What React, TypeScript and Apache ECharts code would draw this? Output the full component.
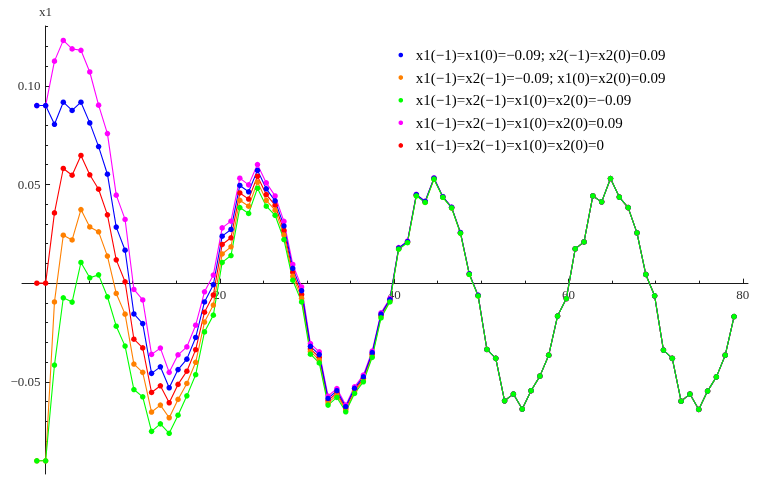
import React, { useEffect, useRef } from "react";
import * as echarts from "echarts";

// Data range of the plotted lists (80 samples spread from -1 to 79)
const X_START = -1;
const X_END = 79;

const blueVals = [
  0.09, 0.09, 0.0805, 0.0917, 0.0875, 0.0917, 0.0812, 0.0692, 0.0552, 0.0284,
  0.0167, -0.0156, -0.0205, -0.0457, -0.0424, -0.053, -0.0438, -0.0385, -0.0275, -0.0095,
  -0.0008, 0.0238, 0.0272, 0.0495, 0.0463, 0.0572, 0.0478, 0.0417, 0.029, 0.0075,
  -0.0038, -0.032, -0.0362, -0.0584, -0.0545, -0.0626, -0.0533, -0.0475, -0.0352, -0.0157,
  -0.0083, 0.0178, 0.0211, 0.0448, 0.0414, 0.0532, 0.0438, 0.0384, 0.0256, 0.0047,
  -0.0062, -0.0336, -0.0381, -0.0596, -0.0562, -0.0638, -0.0545, -0.0471, -0.0365, -0.0167,
  -0.0078, 0.0174, 0.0209, 0.0442, 0.0412, 0.053, 0.0436, 0.0383, 0.0255, 0.0044,
  -0.0064, -0.0339, -0.0381, -0.0598, -0.0562, -0.064, -0.0547, -0.0475, -0.0365, -0.0169,
];

const orangeVals = [
  -0.09, -0.09, -0.0095, 0.0243, 0.0219, 0.0373, 0.0285, 0.026, 0.0137, -0.0052,
  -0.0157, -0.041, -0.0452, -0.0653, -0.0618, -0.0682, -0.0589, -0.0508, -0.0401, -0.0197,
  -0.0111, 0.0148, 0.0184, 0.042, 0.039, 0.0512, 0.042, 0.037, 0.0244, 0.0035,
  -0.0076, -0.0346, -0.039, -0.0607, -0.0567, -0.0643, -0.055, -0.0491, -0.0368, -0.0169,
  -0.0091, 0.0174, 0.0207, 0.0444, 0.041, 0.0528, 0.0436, 0.0382, 0.0254, 0.0045,
  -0.0064, -0.0336, -0.0381, -0.0596, -0.0562, -0.0638, -0.0545, -0.0471, -0.0365, -0.0167,
  -0.0078, 0.0174, 0.0209, 0.0442, 0.0412, 0.053, 0.0436, 0.0383, 0.0255, 0.0044,
  -0.0064, -0.0339, -0.0381, -0.0598, -0.0562, -0.064, -0.0547, -0.0475, -0.0365, -0.0169,
];

const greenVals = [
  -0.09, -0.09, -0.0415, -0.0074, -0.0096, 0.0105, 0.0027, 0.0042, -0.0069, -0.0218,
  -0.0319, -0.0539, -0.0576, -0.0751, -0.0713, -0.0761, -0.0669, -0.0571, -0.0464, -0.0247,
  -0.0162, 0.0105, 0.014, 0.0383, 0.0353, 0.0481, 0.039, 0.0344, 0.0221, 0.0015,
  -0.0095, -0.036, -0.0404, -0.0618, -0.0579, -0.0652, -0.0559, -0.05, -0.0376, -0.0176,
  -0.0095, 0.0172, 0.0205, 0.0442, 0.0409, 0.0527, 0.0435, 0.0381, 0.0253, 0.0044,
  -0.0065, -0.0336, -0.0381, -0.0596, -0.0562, -0.0638, -0.0545, -0.0471, -0.0365, -0.0167,
  -0.0078, 0.0174, 0.0209, 0.0442, 0.0412, 0.053, 0.0436, 0.0383, 0.0255, 0.0044,
  -0.0064, -0.0339, -0.0381, -0.0598, -0.0562, -0.064, -0.0547, -0.0475, -0.0365, -0.0169,
];

const magentaVals = [
  0.09, 0.09, 0.1125, 0.123, 0.1187, 0.118, 0.107, 0.0902, 0.0758, 0.0446,
  0.0323, -0.0032, -0.0085, -0.0361, -0.0329, -0.0452, -0.0363, -0.0323, -0.0213, -0.0044,
  0.0041, 0.028, 0.0314, 0.0532, 0.0498, 0.0601, 0.0508, 0.0442, 0.0313, 0.0095,
  -0.0019, -0.0306, -0.0348, -0.0572, -0.0534, -0.0618, -0.0525, -0.0466, -0.0344, -0.015,
  -0.0078, 0.018, 0.0213, 0.045, 0.0415, 0.0533, 0.0439, 0.0385, 0.0257, 0.0048,
  -0.0061, -0.0336, -0.0381, -0.0596, -0.0562, -0.0638, -0.0545, -0.0471, -0.0365, -0.0167,
  -0.0078, 0.0174, 0.0209, 0.0442, 0.0412, 0.053, 0.0436, 0.0383, 0.0255, 0.0044,
  -0.0064, -0.0339, -0.0381, -0.0598, -0.0562, -0.064, -0.0547, -0.0475, -0.0365, -0.0169,
];

const redVals = [
  0, 0, 0.0356, 0.0581, 0.0547, 0.0647, 0.0549, 0.0476, 0.0346, 0.0118,
  0.0007, -0.0284, -0.0328, -0.0554, -0.052, -0.0606, -0.0513, -0.0446, -0.0337, -0.0147,
  -0.006, 0.0196, 0.023, 0.0457, 0.0426, 0.0542, 0.0449, 0.0395, 0.0267, 0.0055,
  -0.0057, -0.0333, -0.0376, -0.0595, -0.0556, -0.0635, -0.0542, -0.0483, -0.036, -0.0163,
  -0.0087, 0.0176, 0.0209, 0.0446, 0.0412, 0.053, 0.0437, 0.0383, 0.0255, 0.0046,
  -0.0063, -0.0336, -0.0381, -0.0596, -0.0562, -0.0638, -0.0545, -0.0471, -0.0365, -0.0167,
  -0.0078, 0.0174, 0.0209, 0.0442, 0.0412, 0.053, 0.0436, 0.0383, 0.0255, 0.0044,
  -0.0064, -0.0339, -0.0381, -0.0598, -0.0562, -0.064, -0.0547, -0.0475, -0.0365, -0.0169,
];

const seriesNames = [
  "x1(−1)=x1(0)=−0.09; x2(−1)=x2(0)=0.09",
  "x1(−1)=x2(−1)=−0.09; x1(0)=x2(0)=0.09",
  "x1(−1)=x2(−1)=x1(0)=x2(0)=−0.09",
  "x1(−1)=x2(−1)=x1(0)=x2(0)=0.09",
  "x1(−1)=x2(−1)=x1(0)=x2(0)=0",
];

const xMajorTicks = [20, 40, 60, 80];
const xMinorTicks = [5, 10, 15, 25, 30, 35, 45, 50, 55, 65, 70, 75];
const yMajorTicks = [-0.05, 0.05, 0.1];
const yMinorTicks = [
  -0.09, -0.08, -0.07, -0.06, -0.04, -0.03, -0.02, -0.01,
  0.01, 0.02, 0.03, 0.04, 0.06, 0.07, 0.08, 0.09, 0.11, 0.12, 0.13,
];

const FONT = "'Liberation Serif', 'Times New Roman', serif";

function toPoints(vals: number[]) {
  const n = vals.length;
  return vals.map((v, i) => [X_START + (i * (X_END - X_START)) / (n - 1), v]);
}

export default function App() {
  const ref = useRef<HTMLDivElement>(null);
  useEffect(() => {
    const chart = echarts.init(ref.current!, null, { renderer: "svg" });
    const W = 762;
    const H = 478;
    const gLeft = 22;
    const gRight = 14;
    const gTop = 26;
    const gBottom = 4;
    const xMin = -2.7;
    const xMax = 80.6;
    const yMin = -0.0967;
    const yMax = 0.1303;
    const gW = W - gLeft - gRight;
    const gH = H - gTop - gBottom;
    // shift the axes from the grid edges to the zero lines (axes cross at origin)
    const yAxisOffset = -((0 - xMin) / (xMax - xMin)) * gW;
    const xAxisOffset = -((0 - yMin) / (yMax - yMin)) * gH;

    const axisColor = "#1a1a1a";
    const labelColor = "#333";
    const fmtY = (v: number) =>
      v < 0 ? "−" + Math.abs(v).toFixed(2) : v.toFixed(2);

    const mk = (name: string, vals: number[], color: string) => ({
      name,
      type: "line",
      xAxisIndex: 0,
      yAxisIndex: 0,
      data: toPoints(vals),
      symbol: "circle",
      symbolSize: 5.5,
      showSymbol: true,
      lineStyle: { color, width: 1.1 },
      itemStyle: { color },
      emphasis: { disabled: true },
    });

    chart.setOption({
      animation: false,
      grid: {
        left: gLeft,
        right: gRight,
        top: gTop,
        bottom: gBottom,
        containLabel: false,
        outerBoundsMode: "none",
      },
      legend: {
        orient: "vertical",
        left: 398.5,
        top: 47.5,
        padding: 0,
        itemGap: 7.6,
        itemWidth: 20,
        itemHeight: 4.6,
        icon: "circle",
        selectedMode: false,
        data: seriesNames,
        textStyle: { fontFamily: FONT, fontSize: 15, color: "#000", lineHeight: 15 },
      },
      xAxis: [
        {
          type: "value",
          min: xMin,
          max: xMax,
          position: "bottom",
          offset: xAxisOffset,
          axisLine: { show: true, onZero: false, lineStyle: { color: axisColor, width: 1 } },
          axisTick: {
            show: true,
            inside: true,
            length: 2.5,
            customValues: xMinorTicks,
            lineStyle: { color: axisColor },
          },
          axisLabel: {
            show: true,
            customValues: xMajorTicks,
            margin: 5,
            color: labelColor,
            fontFamily: FONT,
            fontSize: 13,
          },
          splitLine: { show: false },
        },
        {
          type: "value",
          min: xMin,
          max: xMax,
          position: "bottom",
          offset: xAxisOffset,
          axisLine: { show: false, onZero: false },
          axisTick: {
            show: true,
            inside: true,
            length: 4.5,
            customValues: xMajorTicks,
            lineStyle: { color: axisColor },
          },
          axisLabel: { show: false },
          splitLine: { show: false },
        },
      ],
      yAxis: [
        {
          type: "value",
          min: yMin,
          max: yMax,
          position: "left",
          offset: yAxisOffset,
          name: "x1",
          nameLocation: "end",
          nameGap: 8,
          nameTextStyle: { fontFamily: FONT, fontSize: 13, color: labelColor },
          axisLine: { show: true, onZero: false, lineStyle: { color: axisColor, width: 1 } },
          axisTick: {
            show: true,
            inside: true,
            length: 2.5,
            customValues: yMinorTicks,
            lineStyle: { color: axisColor },
          },
          axisLabel: {
            show: true,
            customValues: yMajorTicks,
            formatter: fmtY,
            margin: 5,
            color: labelColor,
            fontFamily: FONT,
            fontSize: 13,
          },
          splitLine: { show: false },
        },
        {
          type: "value",
          min: yMin,
          max: yMax,
          position: "left",
          offset: yAxisOffset,
          axisLine: { show: false, onZero: false },
          axisTick: {
            show: true,
            inside: true,
            length: 4.5,
            customValues: yMajorTicks,
            lineStyle: { color: axisColor },
          },
          axisLabel: { show: false },
          splitLine: { show: false },
        },
      ],
      series: [
        mk(seriesNames[3], magentaVals, "#ff00ff"),
        mk(seriesNames[4], redVals, "#ff0000"),
        mk(seriesNames[1], orangeVals, "#ff8000"),
        mk(seriesNames[0], blueVals, "#0000ff"),
        mk(seriesNames[2], greenVals, "#00ff00"),
      ],
    });
    return () => chart.dispose();
  }, []);
  return (
    <div
      ref={ref}
      style={{ position: "fixed", left: 0, top: 0, width: 762, height: 478 }}
    />
  );
}
